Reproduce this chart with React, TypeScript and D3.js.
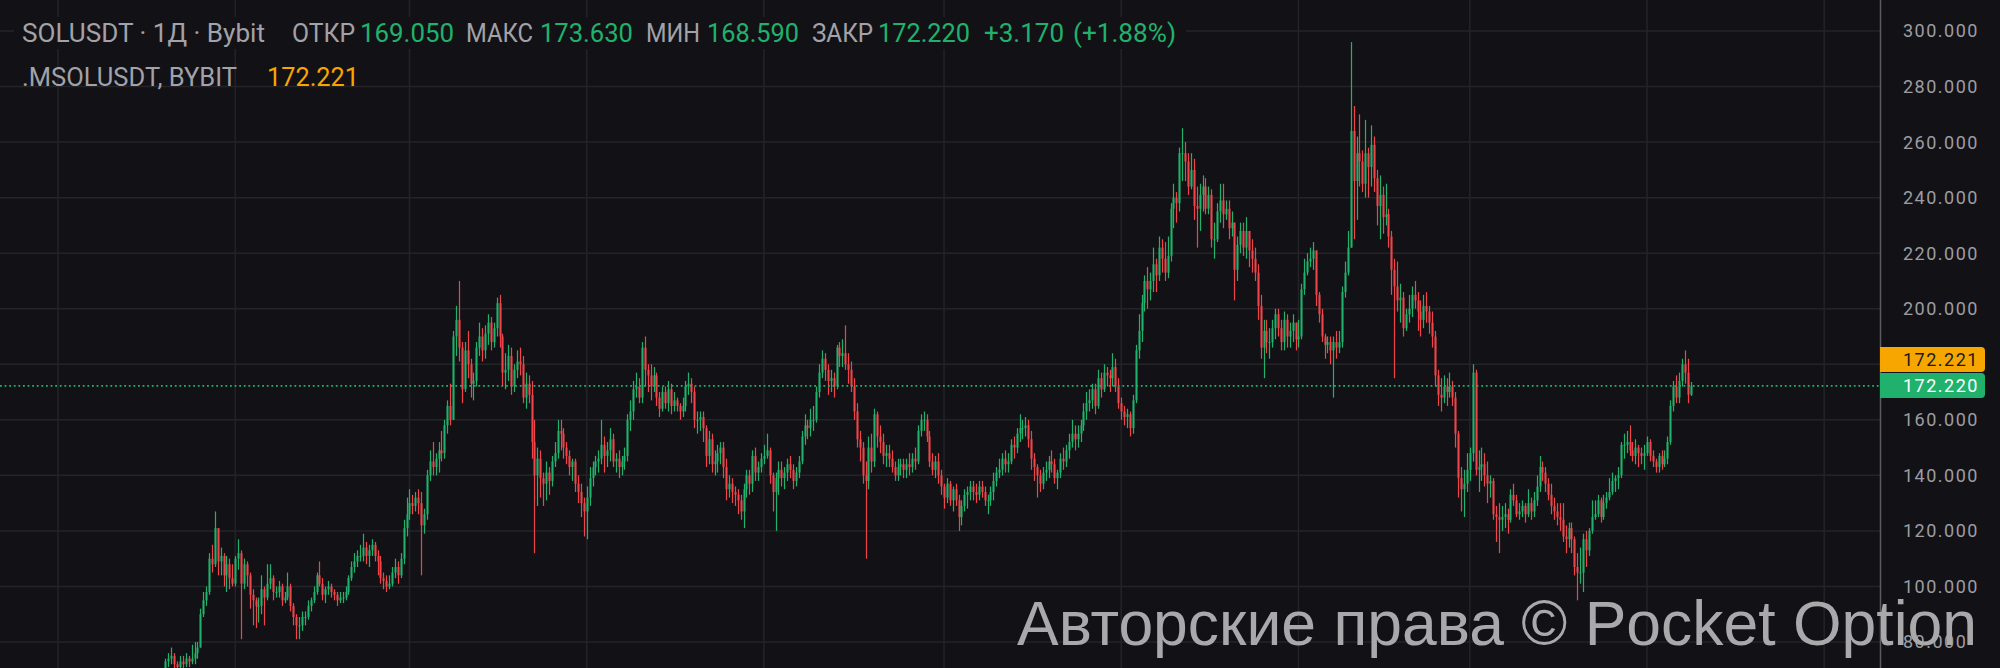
import React from "react";
import * as d3 from "d3";

// ---- data (daily candles from 2023-12-01, open = previous close) ----
const firstDay = Date.UTC(2023, 11, 1);
const firstOpen = 59;
const closes = [
  60,62,61,62,64,63,67,73,74,75,72,71,73,72,74,73,74,76,78,90,95,98,110,108,121,109,111,104,108,103,101,
  110,112,101,108,104,97,95,93,93,99,96,101,103,98,98,100,95,96,100,93,89,86,86,89,89,93,95,98,104,101,97,
  99,100,98,97,95,96,96,98,103,107,109,111,111,114,111,113,115,111,109,103,102,100,101,105,107,104,110,121,126,
  130,129,132,130,122,126,140,145,143,146,149,148,158,165,160,190,196,186,171,185,180,173,174,186,190,185,191,195,188,193,202,
  190,177,178,183,172,178,181,180,168,173,169,152,140,146,139,137,141,138,145,148,156,155,150,147,143,145,137,134,130,127,
  132,139,143,145,146,151,147,149,153,145,146,143,145,147,160,163,171,172,168,186,178,176,172,176,168,164,170,166,171,165,167,
  165,163,165,172,173,170,160,160,161,157,147,153,144,145,148,150,143,135,137,134,133,131,127,135,140,137,147,141,143,146,
  147,149,140,134,139,142,139,141,144,142,138,141,145,154,158,157,160,160,170,177,182,178,174,175,172,186,183,184,180,178,172,
  163,153,150,140,138,150,145,162,154,152,147,148,146,143,140,143,144,142,144,143,146,145,156,160,160,154,145,142,145,140,136,
  132,137,131,135,131,125,129,133,134,136,134,133,136,134,131,131,134,138,141,142,146,144,145,151,150,155,157,157,158,153,
  146,143,140,137,141,142,145,144,139,141,146,145,149,152,155,153,155,158,163,166,167,171,165,175,171,177,176,175,179,172,166,
  163,161,162,157,167,185,192,202,210,207,210,216,212,222,218,213,219,236,240,238,256,256,253,244,250,237,236,241,244,236,
  241,225,225,235,239,234,236,229,231,214,223,228,222,228,221,218,213,201,186,192,188,188,193,198,193,188,196,190,192,195,189,
  190,207,213,217,218,221,205,198,190,187,188,185,188,186,188,206,213,222,264,246,256,253,245,256,251,259,247,237,241,233,234,
  226,214,208,203,204,193,198,200,205,203,199,196,201,199,195,190,176,169,168,172,170,172,168,155,139,135,137,142,
  148,177,142,143,144,140,137,138,126,125,124,125,126,124,133,131,126,127,129,126,130,127,131,136,143,141,137,133,129,127,125,
  124,118,117,121,117,107,105,105,117,113,120,125,126,131,125,130,132,134,138,139,140,151,151,152,149,147,150,148,147,148,
  152,147,145,143,147,144,146,152,165,172,168,174,180,177,169.05,172.22,
];
const highs = [
  61,63,63,64,65,66,68,74,76,78,76,73,75,75,76,75,79,80,80,92,98,100,112,115,127,121,114,112,111,110,108,
  111,117,113,110,109,105,99,96,96,104,100,108,108,104,100,102,101,98,105,101,94,90,89,91,91,95,96,100,105,109,103,
  100,102,101,99,98,98,98,100,104,109,112,113,115,119,116,115,117,116,113,111,105,104,104,107,110,109,112,124,132,
  135,133,134,135,134,128,142,149,152,148,152,156,160,167,173,192,201,210,188,188,192,182,177,188,195,193,194,198,197,195,204,
  205,191,184,187,186,180,185,186,183,177,176,174,160,150,149,141,145,143,147,152,160,160,157,152,149,146,146,140,137,132,
  136,143,145,147,149,160,154,152,157,155,148,149,147,150,162,167,174,177,175,188,190,180,180,179,177,170,172,172,174,173,170,
  168,166,168,174,177,175,172,163,163,163,158,156,155,149,151,152,152,146,140,139,136,135,133,137,142,142,149,150,145,148,
  151,155,150,141,141,145,145,143,146,147,144,143,147,156,162,160,164,165,172,180,185,184,180,178,177,187,188,189,194,184,181,
  175,166,156,152,145,154,155,164,163,158,155,151,151,149,145,146,146,146,146,148,148,150,158,162,163,162,156,148,147,148,142,
  137,139,138,136,137,133,131,135,136,138,138,137,138,138,136,133,136,141,143,146,148,149,148,153,154,157,162,160,161,160,
  156,148,144,142,143,145,147,149,146,142,148,150,151,155,160,158,158,160,166,170,171,173,173,178,177,180,179,178,184,182,175,
  168,165,164,163,169,187,198,205,212,215,213,222,218,226,225,224,226,238,245,242,258,265,260,256,256,254,244,245,248,247,
  244,243,231,238,245,245,239,239,235,231,226,231,231,233,228,225,222,216,205,196,196,193,196,200,200,196,199,198,195,198,195,
  196,209,218,220,222,224,221,206,200,191,190,190,190,192,192,208,217,228,296,273,262,270,257,268,258,266,262,250,248,244,245,
  236,228,218,217,209,206,200,205,208,210,206,203,205,206,201,199,192,178,175,176,175,177,174,170,156,143,142,148,
  150,180,178,149,150,148,145,140,139,129,130,129,130,128,135,137,133,130,131,130,135,132,134,140,147,145,143,139,137,132,130,
  130,130,122,123,123,118,112,114,119,120,121,131,131,133,132,133,134,139,141,140,143,152,155,156,158,152,153,151,150,151,
  154,153,149,146,148,149,149,154,167,174,176,177,182,185,182,173.63,
];
const lows = [
  58,59,60,60,61,62,62,66,71,72,70,68,70,70,71,71,72,72,74,78,89,93,97,105,107,104,104,100,98,99,100,
  100,106,81,99,100,92,86,85,87,90,86,95,99,95,96,96,93,94,95,91,86,81,81,84,86,88,91,94,97,100,95,
  94,97,96,95,93,94,94,95,97,102,105,107,109,109,108,107,111,109,104,101,99,98,99,100,103,101,103,108,118,
  124,126,127,126,104,119,124,138,140,140,141,145,146,155,158,163,183,181,166,170,175,168,167,172,183,181,182,187,185,186,190,
  186,172,171,174,169,170,175,176,166,164,166,146,112,129,132,129,131,133,136,143,146,149,146,144,140,138,134,130,125,118,
  117,129,136,140,141,144,141,143,145,143,141,139,140,142,145,156,160,168,166,166,172,170,167,170,165,161,163,164,163,162,163,
  163,160,161,163,169,166,157,155,156,152,143,144,141,140,141,144,139,131,132,130,129,126,124,121,132,133,134,138,138,141,
  144,146,137,127,120,133,136,135,138,139,135,136,139,144,151,153,154,156,159,168,175,174,169,170,168,171,179,179,178,173,170,
  160,150,145,137,110,135,141,143,150,148,144,143,143,141,138,138,140,139,139,140,141,142,144,154,156,152,143,140,139,137,133,
  128,130,129,127,129,120,122,127,128,131,131,130,131,132,129,126,129,131,136,139,140,141,141,144,146,148,152,153,154,150,
  142,138,132,134,135,138,139,141,137,135,139,142,143,146,150,149,150,152,156,160,163,164,162,164,168,170,172,170,172,170,164,
  160,158,157,154,155,166,182,188,199,200,203,206,206,210,213,210,211,217,229,231,235,246,246,241,243,232,222,228,235,234,
  234,222,218,224,231,229,232,225,226,203,210,220,219,218,215,213,210,196,182,175,184,182,186,189,190,185,185,186,186,188,185,
  186,189,205,212,215,214,201,195,188,182,184,180,168,182,184,186,204,212,222,225,232,244,242,240,240,244,242,230,225,227,230,
  222,205,175,199,195,190,192,195,197,200,192,190,193,195,191,186,172,165,163,166,165,168,165,150,132,127,125,134,
  138,145,140,134,138,136,130,132,124,116,112,120,121,119,123,129,125,124,125,123,125,124,125,129,134,138,134,131,126,124,122,
  120,116,112,114,112,104,95,101,98,107,111,119,124,125,123,124,128,131,133,134,135,139,146,148,147,145,144,143,144,142,
  147,145,143,141,141,142,143,144,151,163,166,166,172,173,166,168.59,
];

const yTicks = [300, 280, 260, 240, 220, 200, 180, 160, 140, 120, 100, 80];
const lastClose = 172.22;
const indicatorValue = 172.221;

const headerRow1 = [
  { t: "SOLUSDT · 1Д · Bybit", x: 22, w: 243, c: "label" },
  { t: "ОТКР", x: 292, w: 63, c: "label" },
  { t: "169.050", x: 360, w: 94, c: "up" },
  { t: "МАКС", x: 466, w: 67, c: "label" },
  { t: "173.630", x: 540, w: 93, c: "up" },
  { t: "МИН", x: 646, w: 54, c: "label" },
  { t: "168.590", x: 707, w: 92, c: "up" },
  { t: "ЗАКР", x: 812, w: 61, c: "label" },
  { t: "172.220", x: 878, w: 92, c: "up" },
  { t: "+3.170", x: 984, w: 80, c: "up" },
  { t: "(+1.88%)", x: 1073, w: 103, c: "up" },
];
const headerRow2 = [
  { t: ".MSOLUSDT, BYBIT", x: 22, w: 215, c: "label" },
  { t: "172.221", x: 267, w: 92, c: "ind" },
];

const BG = "#121216";
const GRID = "#242428";
const UP = "#20b26c";
const DOWN = "#ef454a";
const ORANGE = "#f7a600";
const LABEL = "#a2a2a8";
const AXIS_TEXT = "#9d9da3";
const PLOT_RIGHT = 1880;
const TAG_TOP = 347;
const TAG_BOTTOM = 398;

export default function App() {
  const x = d3
    .scaleUtc()
    .domain([new Date(Date.UTC(2023, 10, 1)), new Date(Date.UTC(2025, 4, 1))])
    .range([58, 1647]);
  const y = d3.scaleLinear().domain([80, 300]).range([642, 31]);
  const monthTicks = d3.utcMonth
    .every(2)!
    .range(new Date(Date.UTC(2023, 10, 1)), new Date(Date.UTC(2025, 7, 2)));
  const fmt = d3.format(".3f");

  const candles = closes.map((c, i) => {
    const o = i === 0 ? firstOpen : closes[i - 1];
    const h = Math.max(highs[i], o, c);
    const l = Math.min(lows[i], o, c);
    const date = new Date(firstDay + i * 86400000);
    return { o, h, l, c, date };
  });

  // axis labels hidden behind the price tags (as in the terminal)
  const labelTicks = yTicks.filter((v) => y(v) + 10 < TAG_TOP || y(v) - 10 > TAG_BOTTOM);

  const colorOf = (c: string) => (c === "up" ? UP : c === "ind" ? ORANGE : LABEL);

  return (
    <svg
      width={2000}
      height={668}
      style={{ position: "absolute", left: 0, top: 0, display: "block" }}
      fontFamily="Roboto, 'Noto Sans', sans-serif"
    >
      <defs>
        <clipPath id="plot">
          <rect x={0} y={0} width={PLOT_RIGHT} height={668} />
        </clipPath>
      </defs>
      <rect x={0} y={0} width={2000} height={668} fill={BG} />
      {/* grid */}
      <g stroke={GRID} strokeWidth={1.5}>
        {yTicks.map((v) => (
          <line key={"h" + v} x1={0} x2={PLOT_RIGHT} y1={y(v)} y2={y(v)} />
        ))}
        {monthTicks.map((d) => (
          <line key={"v" + d.getTime()} x1={x(d)} x2={x(d)} y1={0} y2={668} />
        ))}
      </g>
      {/* header background hides the top grid line */}
      <rect x={14} y={17} width={1172} height={32} fill={BG} />
      {/* candles */}
      <g clipPath="url(#plot)">
        {candles.map((k, i) => {
          const cx = Math.round(x(k.date)) + 0.5;
          const col = k.c >= k.o ? UP : DOWN;
          const top = y(Math.max(k.o, k.c));
          const bot = y(Math.min(k.o, k.c));
          return (
            <g key={i}>
              <line x1={cx} x2={cx} y1={y(k.h)} y2={y(k.l)} stroke={col} strokeWidth={1.2} />
              <rect x={cx - 1} y={top} width={2} height={Math.max(1, bot - top)} fill={col} />
            </g>
          );
        })}
      </g>
      {/* last price dotted line */}
      <line
        x1={0}
        x2={PLOT_RIGHT}
        y1={y(lastClose)}
        y2={y(lastClose)}
        stroke={UP}
        strokeWidth={1.6}
        strokeDasharray="1.8 2.8"
      />
      {/* header */}
      <g fontSize={25}>
        {headerRow1.map((h) => (
          <text key={h.t} x={h.x} y={42} fill={colorOf(h.c)} textLength={h.w} lengthAdjust="spacingAndGlyphs">
            {h.t}
          </text>
        ))}
        {headerRow2.map((h) => (
          <text key={h.t} x={h.x} y={86} fill={colorOf(h.c)} textLength={h.w} lengthAdjust="spacingAndGlyphs">
            {h.t}
          </text>
        ))}
      </g>
      {/* right axis */}
      <rect x={PLOT_RIGHT} y={0} width={120} height={668} fill={BG} />
      <line x1={PLOT_RIGHT + 0.5} x2={PLOT_RIGHT + 0.5} y1={0} y2={668} stroke="#5a5a5f" strokeWidth={1.5} />
      <g fontSize={18} fill={AXIS_TEXT} letterSpacing={1.5}>
        {labelTicks.map((v) => (
          <text key={"t" + v} x={1903} y={y(v)} dy="0.36em">
            {fmt(v)}
          </text>
        ))}
      </g>
      {/* price tags */}
      <path d="M1880,347 H1981 a4,4 0 0 1 4,4 V368 a4,4 0 0 1 -4,4 H1880 Z" fill={ORANGE} />
      <text x={1903} y={359.5} dy="0.36em" fontSize={18} letterSpacing={1.5} fill="#1a1a1a">
        {fmt(indicatorValue)}
      </text>
      <path d="M1880,373 H1981 a4,4 0 0 1 4,4 V394 a4,4 0 0 1 -4,4 H1880 Z" fill={UP} />
      <text x={1903} y={y(lastClose)} dy="0.36em" fontSize={18} letterSpacing={1.5} fill="#ffffff">
        {fmt(lastClose)}
      </text>
      {/* watermark */}
      <text
        x={1017}
        y={645}
        fontFamily="'Liberation Sans', Arial, sans-serif"
        fontSize={63}
        fill="#a9a9ab"
        textLength={960}
        lengthAdjust="spacingAndGlyphs"
      >
        Авторские права © Pocket Option
      </text>
    </svg>
  );
}
